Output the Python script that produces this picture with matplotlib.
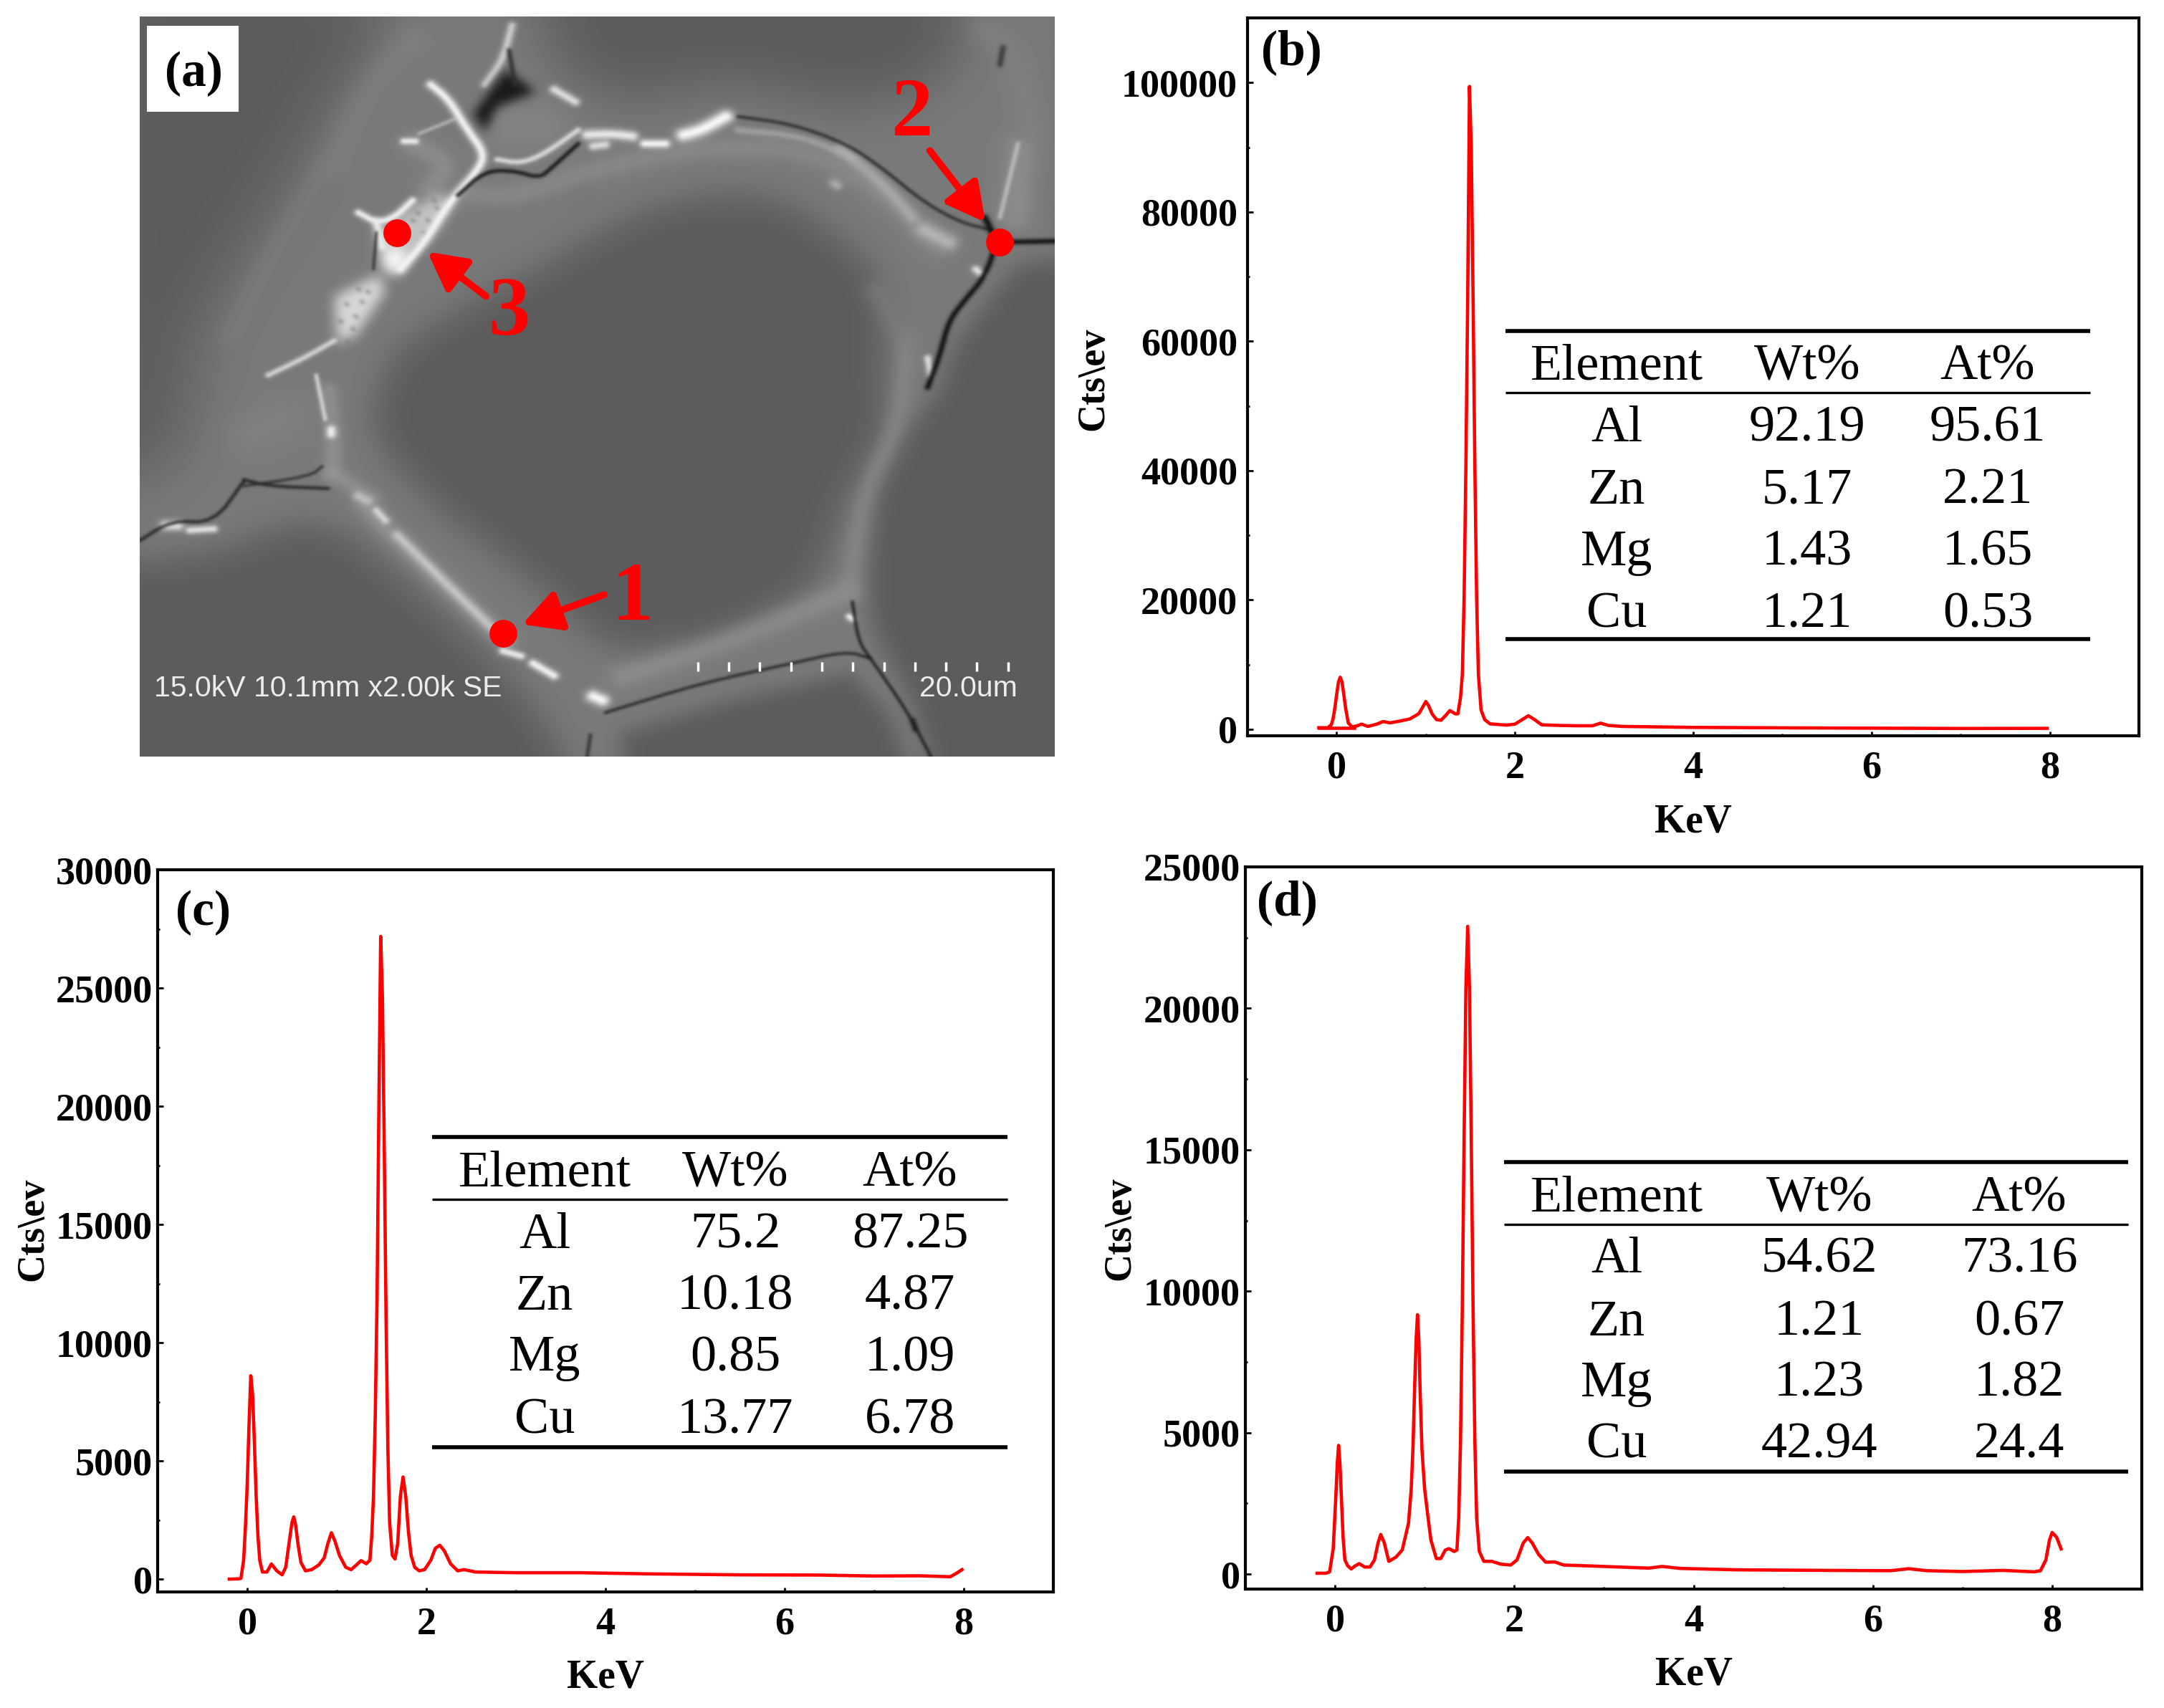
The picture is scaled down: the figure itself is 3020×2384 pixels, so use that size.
import numpy as np
import matplotlib
matplotlib.use("Agg")
import matplotlib.pyplot as plt
from matplotlib.path import Path

W, H = 3020, 2384
plt.rcParams['font.family'] = ['Liberation Serif', 'DejaVu Serif']

# ---------- spectra ----------
b_kev = [-0.2,-0.1,-0.06,-0.04,-0.02,0.0,0.02,0.04,0.06,0.08,0.1,0.13,0.17,0.22,0.28,0.35,0.45,0.52,0.6,0.7,0.82,0.92,0.96,1.0,1.03,1.07,1.12,1.17,1.22,1.27,1.33,1.36,1.39,1.41,1.43,1.45,1.47,1.49,1.51,1.53,1.55,1.57,1.59,1.62,1.66,1.72,1.9,2.0,2.07,2.15,2.22,2.3,2.5,2.7,2.87,2.96,3.05,3.2,4,5,6,7,7.97]
b_cts = [250,250,700,1650,3300,5400,7300,8050,7300,5400,3300,1000,400,500,800,450,800,1200,1000,1250,1600,2400,3300,4300,3700,2400,1500,1400,2100,2900,2400,2400,5000,8500,20500,41000,67000,99400,90000,67000,41000,20500,8500,3000,1500,850,650,800,1400,2100,1500,700,600,550,550,950,600,450,300,230,180,130,150]
b_base_kev = [-0.2, 0.2]
b_base_cts = [250, 250]

c_kev = [-0.2,-0.1,-0.07,-0.04,-0.02,0,0.02,0.04,0.06,0.08,0.1,0.12,0.14,0.17,0.22,0.27,0.33,0.39,0.43,0.47,0.5,0.52,0.54,0.57,0.6,0.65,0.72,0.8,0.86,0.9,0.94,0.98,1.03,1.1,1.16,1.22,1.27,1.33,1.37,1.39,1.41,1.43,1.45,1.47,1.49,1.51,1.53,1.55,1.57,1.59,1.62,1.65,1.68,1.71,1.74,1.77,1.8,1.83,1.87,1.92,1.98,2.05,2.1,2.15,2.2,2.27,2.35,2.42,2.55,3,3.7,4.5,5.5,6.4,7,7.5,7.85,7.92,7.98]
c_cts = [0,10,30,800,2200,4000,6500,8600,7800,5800,3500,1800,800,300,300,640,350,180,500,1600,2400,2630,2300,1400,700,350,400,600,900,1500,1960,1600,1000,500,400,600,780,650,800,1800,3500,7000,12000,20000,27180,24600,18300,11100,5600,2400,1000,850,1500,3500,4320,3500,2000,1000,500,350,400,800,1300,1430,1200,650,350,400,300,270,270,220,180,170,130,140,100,250,400]

d_kev = [-0.2,-0.1,-0.06,-0.02,0.01,0.025,0.04,0.055,0.07,0.09,0.11,0.14,0.18,0.22,0.27,0.33,0.39,0.44,0.48,0.51,0.55,0.6,0.68,0.75,0.82,0.85,0.87,0.89,0.905,0.92,0.935,0.95,0.97,1.0,1.03,1.07,1.13,1.18,1.23,1.27,1.33,1.36,1.38,1.40,1.42,1.44,1.46,1.48,1.50,1.52,1.54,1.56,1.58,1.61,1.66,1.75,1.85,1.96,2.03,2.1,2.15,2.2,2.27,2.35,2.45,2.55,3,3.5,3.65,3.85,4.5,5.5,6.2,6.4,6.6,7,7.45,7.8,7.87,7.93,7.97,8.0,8.05,8.1]
d_cts = [30,30,80,900,2800,3900,4550,3900,2800,1300,500,300,180,280,370,250,250,500,1100,1400,1100,450,600,850,1800,3000,4500,6800,8300,9170,8300,6400,4400,3000,2200,1200,550,550,850,900,800,850,2000,4700,9400,15400,20700,22900,20700,15400,9400,4700,2000,800,450,450,350,320,500,1100,1290,1100,700,420,430,320,270,210,270,200,150,130,120,190,120,90,130,80,120,500,1200,1470,1300,890]

# ---------- tables ----------
table_head = ["Element", "Wt%", "At%"]
elements = ["Al", "Zn", "Mg", "Cu"]
b_wt = ["92.19", "5.17", "1.43", "1.21"]
b_at = ["95.61", "2.21", "1.65", "0.53"]
c_wt = ["75.2", "10.18", "0.85", "13.77"]
c_at = ["87.25", "4.87", "1.09", "6.78"]
d_wt = ["54.62", "1.21", "1.23", "42.94"]
d_at = ["73.16", "0.67", "1.82", "24.4"]

xticks = [0, 2, 4, 6, 8]
RED = '#ff0000'
LW = 3.3

fig = plt.figure(figsize=(W/100, H/100), dpi=100, facecolor='white')

def px_axes(l, t, r, b):
    return fig.add_axes([l/W, 1-b/H, (r-l)/W, (b-t)/H])

def ftext(x, y, s, **kw):
    kw.setdefault('ha', 'center'); kw.setdefault('va', 'center')
    fig.text(x/W, 1-y/H, s, **kw)

def hrule(x0, x1, y, lw):
    fig.add_artist(plt.Line2D([x0/W, x1/W], [1-y/H, 1-y/H], color='black', lw=lw, solid_capstyle='butt'))

def spectrum(box, ylim, yticks, kev, cts, letter, letter_xy, ylab_x, xlab_y, ylab_y, tbl, ypad=5):
    ax = px_axes(*box)
    ax.plot(kev, cts, color=RED, lw=LW, solid_joinstyle='round')
    ax.set_xlim(-1, 9); ax.set_ylim(*ylim)
    ax.set_xticks(xticks); ax.set_yticks(yticks)
    ax.set_xticks([-1,1,3,5,7,9], minor=True)
    ax.set_yticks([(yticks[i]+yticks[i+1])/2 for i in range(len(yticks)-1)], minor=True)
    ax.tick_params(axis='x', which='major', direction='in', length=4, width=2, labelsize=39, pad=15)
    ax.tick_params(axis='y', which='major', direction='in', length=6, width=2, labelsize=39, pad=ypad)
    ax.tick_params(axis='both', which='minor', direction='in', length=2.5, width=2)
    for t in ax.get_xticklabels()+ax.get_yticklabels():
        t.set_fontweight('bold')
    for s in ax.spines.values():
        s.set_linewidth(3)
    ftext(*letter_xy, letter, fontsize=50, fontweight='bold')
    ftext(ylab_x, ylab_y, 'Cts\\ev', fontsize=39, fontweight='bold', rotation=90)
    ftext((box[0]+box[2])/2, xlab_y, 'KeV', fontsize=40, fontweight='bold')
    x0, x1, y_top, y_mid, y_bot, rows, cols, wt, at = tbl
    hrule(x0, x1, y_top, 4); hrule(x0, x1, y_mid, 2.4); hrule(x0, x1, y_bot, 4)
    for c, s in zip(cols, table_head):
        ftext(c, rows[0]+5, s, fontsize=52)
    for i, el in enumerate(elements):
        ftext(cols[0], rows[i+1]+5, el, fontsize=52)
        ftext(cols[1], rows[i+1]+5, wt[i], fontsize=52)
        ftext(cols[2], rows[i+1]+5, at[i], fontsize=52)
    return ax

ax_b = spectrum((1741,25,2985,1027), (-1000,110000), [0,20000,40000,60000,80000,100000], b_kev, b_cts,
         '(b)', (1802,73), 1526, 1147, 529,
         (2101,2917,462,548,892,[507,593,680,766,853],[2256,2522,2774],b_wt,b_at), ypad=10)
ax_b.plot(b_base_kev, b_base_cts, color=RED, lw=LW)
spectrum((220,1214,1470,2222), (-543,30000), [0,5000,10000,15000,20000,25000,30000], c_kev, c_cts,
         '(c)', (283,1274), 46, 2341, 1716,
         (603,1406,1587,1674,2020,[1633,1719,1805,1891,1978],[760,1026,1270],c_wt,c_at))
spectrum((1738,1210,2989,2218), (-530,25000), [0,5000,10000,15000,20000,25000], d_kev, d_cts,
         '(d)', (1796,1260), 1563, 2337, 1715,
         (2099,2970,1622,1709,2054,[1668,1753,1841,1926,2012],[2256,2539,2818],d_wt,d_at))

# ---------- panel (a): micrograph sketch ----------
XR = (18, 1535); YR = (33, 1533)
NX, NY = 760, 620
gx = np.linspace(XR[0], XR[1], NX); gy = np.linspace(YR[0], YR[1], NY)
GX, GY = np.meshgrid(gx, gy)

def blur(a, sigma):
    pad = np.pad(a, 40, mode='edge')
    fx = np.fft.rfftfreq(pad.shape[1]); fy = np.fft.fftfreq(pad.shape[0])
    G = np.exp(-2*(np.pi*sigma)**2*(fx[None, :]**2+fy[:, None]**2))
    return np.fft.irfft2(np.fft.rfft2(pad)*G, s=pad.shape)[40:-40, 40:-40]

def region(img, pts, val, sigma):
    m = Path(pts).contains_points(np.c_[GX.ravel(), GY.ravel()]).reshape(GX.shape).astype(float)
    m = blur(m, sigma)
    return img*(1-m)+val*m

def chaikin(pts, n=2):
    p = np.asarray(pts, float)
    for _ in range(n):
        q = [p[0]]
        for a, c in zip(p[:-1], p[1:]):
            q += [0.75*a+0.25*c, 0.25*a+0.75*c]
        q.append(p[-1])
        p = np.array(q)
    return p

def stroke(img, pts, width, val, strength=1.0, smooth=True):
    pts = chaikin(pts) if (smooth and len(pts) > 2) else np.asarray(pts, float)
    d2 = np.full(GX.shape, 1e12)
    for (x0, y0), (x1, y1) in zip(pts[:-1], pts[1:]):
        dx, dy = x1-x0, y1-y0
        t = np.clip(((GX-x0)*dx+(GY-y0)*dy)/max(dx*dx+dy*dy, 1e-6), 0, 1)
        d2 = np.minimum(d2, (GX-x0-t*dx)**2+(GY-y0-t*dy)**2)
    m = strength*np.exp(-d2/(width*width))
    return img*(1-m)+val*m

DARK = 92
sem = np.full(GX.shape, 122.0)
core_grain = [(700,530),(780,470),(870,420),(960,395),(1050,395),(1120,430),(1190,490),(1240,550),(1255,620),(1255,720),(1250,800),(1255,880),(1225,940),(1190,1010),(1165,1100),(1140,1180),(1060,1250),(960,1300),(830,1320),(770,1290),(700,1210),(620,1130),(520,1040),(430,930),(400,850),(430,730),(490,670),(560,620),(640,570)]
top_left = [(-40,-40),(450,-40),(400,110),(340,220),(290,330),(230,450),(170,560),(110,700),(100,850),(60,950),(-40,1000)]
bottom_left = [(-40,1150),(140,1120),(280,1060),(360,1080),(450,1170),(560,1290),(650,1400),(760,1600),(-40,1600)]
top_grain = [(660,-40),(1370,-40),(1390,100),(1300,190),(1180,215),(1000,165),(820,205),(750,165),(700,100)]
right_grain = [(1600,510),(1470,540),(1420,620),(1370,700),(1345,790),(1290,880),(1240,1000),(1225,1200),(1240,1290),(1300,1420),(1345,1600),(1600,1600)]
bottom_grain = [(840,1600),(810,1490),(1000,1420),(1200,1365),(1260,1450),(1310,1600)]
for poly, sg in [(top_left,26),(bottom_left,14),(top_grain,22),(right_grain,9),(bottom_grain,8)]:
    sem = region(sem, poly, DARK, sg)
sem = region(sem, core_grain, DARK, 14)

# soft bands and halos: (path, width, grey, strength)
pale = [
    ([(560,390),(640,400),(800,330),(1000,290),(1150,310),(1260,400),(1340,500)], 24, 145, .55),
    ([(1180,300),(1250,370),(1300,440)], 12, 190, .6),
    ([(1010,262),(1120,275),(1200,320)], 7, 175, .7),
    ([(390,1020),(440,1090),(625,1300)], 20, 160, .6),
    ([(445,1085),(540,1200),(625,1300)], 9, 205, .85),
    ([(330,790),(340,900),(335,960)], 16, 150, .7),
    ([(340,960),(400,1010)], 16, 150, .7),
    ([(1360,490),(1320,465)], 16, 190, .8),
    ([(820,1370),(1000,1300),(1190,1200)], 26, 150, .6),
    ([(1290,690),(1280,850),(1215,1010),(1195,1200)], 18, 140, .6),
    ([(1240,590),(1290,690)], 22, 125, .6),
    ([(350,740),(420,620),(520,520),(640,460),(760,400)], 28, 120, .7),
    ([(680,255),(640,255)], 50, 132, .95),
    ([(205,880),(250,850)], 46, 128, .85),
    ([(470,80),(430,130),(380,220),(340,330)], 32, 130, .6),
    ([(320,350),(260,470),(200,600),(170,680)], 24, 125, .6),
    ([(1480,300),(1470,440)], 30, 150, .6),
    ([(1420,60),(1470,120),(1500,260)], 30, 130, .6),
    ([(470,290),(530,330),(500,380)], 22, 150, .6),
]
for p, w, v, s in pale:
    sem = stroke(sem, p, w, v, s)

# bright precipitates
for poly, val in [([(470,420),(520,390),(540,410),(500,480),(450,540),(420,540),(412,470)], 195),
                  ([(340,600),(415,555),(425,590),(375,680),(345,695)], 215),
                  ([(422,500),(465,510),(450,555),(425,550)], 250)]:
    sem = region(sem, poly, val, 5)
# pores inside the bright patches
pore_x = [360,375,350,385,370,395,362,478,495,510,488,470,505,452,380]
pore_y = [615,640,650,610,665,590,690,430,445,420,470,445,405,480,585]
for x, y in zip(pore_x, pore_y):
    sem = stroke(sem, [(x,y),(x+2,y+2)], 4, 120, .6, smooth=False)

white = [
    ([(920,272),(950,262),(990,235)], 13, 250),
    ([(855,290),(890,290)], 8, 250),
    ([(760,272),(800,270),(835,275)], 10, 235),
    ([(770,295),(790,292)], 8, 225),
    ([(500,170),(530,200),(560,260),(590,310),(578,345),(530,410),(490,490),(450,545)], 8, 245),
    ([(380,430),(410,450),(440,440),(470,405)], 6.5, 245),
    ([(410,450),(420,500)], 8, 235),
    ([(455,285),(475,285)], 6, 245),
    ([(480,270),(540,240)], 3, 190),
    ([(230,760),(290,725),(340,690)], 5, 220),
    ([(705,180),(740,205)], 8, 225),
    ([(590,170),(620,120),(635,50)], 7, 205),
    ([(310,760),(325,850)], 3.5, 220),
    ([(335,870),(335,880)], 8, 240),
    ([(60,1065),(80,1065)], 10, 235),
    ([(100,1075),(140,1072)], 7, 230),
    ([(620,1320),(650,1330)], 7, 240),
    ([(670,1345),(705,1370)], 8, 245),
    ([(770,1412),(785,1420)], 12, 250),
    ([(380,1005),(395,1015)], 9, 190),
    ([(410,1035),(425,1055)], 7, 215),
    ([(610,322),(650,330),(690,310),(745,262)], 5, 225),
    ([(1325,725),(1330,760)], 6, 225),
    ([(1195,1250),(1200,1255)], 6, 250),
    ([(1405,545),(1415,555)], 7, 230),
    ([(1170,370),(1175,375)], 9, 170),
    ([(1475,290),(1445,440)], 4, 190),
]
for p, w, v in white:
    sem = stroke(sem, p, w, v)

# cracks: dark
for poly, val in [([(570,230),(625,140),(675,185),(610,215),(590,265)], 25)]:
    sem = region(sem, poly, val, 4)
black = [
    ([(1010,235),(1100,250),(1190,290),(1250,340),(1320,410),(1380,450),(1430,465)], 2.8, 35),
    ([(630,100),(640,170)], 4, 50),
    ([(545,395),(590,345),(640,345),(680,360),(700,340),(745,290)], 3.6, 15),
    ([(190,972),(230,985),(330,990)], 3, 25),
    ([(18,1095),(70,1055),(140,1060),(190,975)], 3, 30),
    ([(190,985),(300,965),(320,945)], 2.4, 35),
    ([(790,1445),(950,1385),(1100,1345),(1190,1320),(1230,1335)], 2.6, 25),
    ([(1200,1220),(1210,1300),(1230,1335),(1290,1440),(1330,1533)], 2.6, 25),
    ([(1440,490),(1420,560),(1385,610),(1360,650),(1345,720),(1325,785)], 5, 15),
    ([(1445,490),(1535,488)], 5, 10),
    ([(1420,440),(1440,490)], 6, 15),
    ([(1450,95),(1445,130)], 5, 60),
    ([(765,1490),(760,1533)], 3, 50),
    ([(410,470),(405,545)], 2.2, 40),
    ([(1300,1460),(1305,1480)], 5, 30),
]
for p, w, v in black:
    sem = stroke(sem, p, w, v)
sem = blur(sem, 1.0)

ax_a = px_axes(195, 23, 1472, 1056)
ax_a.imshow(sem, cmap='gray', vmin=0, vmax=255, extent=(XR[0], XR[1], YR[1], YR[0]),
            aspect='auto', interpolation='bilinear')
ax_a.set_xlim(*XR); ax_a.set_ylim(YR[1], YR[0]); ax_a.axis('off')

# white label box, caption and scale bar
ax_a.add_patch(plt.Rectangle((30,52), 152, 174, fc='white', ec='none', zorder=3))
ax_a.text(108, 150, '(a)', fontsize=50, fontweight='bold', ha='center', va='center', zorder=4)
ax_a.text(42, 1395, '15.0kV 10.1mm x2.00k SE', color='#ececec', fontsize=29.5, family='Liberation Sans', ha='left', va='center', zorder=4)
ax_a.text(1392, 1395, '20.0um', color='#ececec', fontsize=29.5, family='Liberation Sans', ha='center', va='center', zorder=4)
scale_ticks = [943, 995, 1046, 1098, 1149, 1200, 1252, 1303, 1355, 1406, 1458]
ax_a.vlines(scale_ticks, 1342, 1360, color='white', lw=2.5, zorder=4)

# red spots, arrows and numbers
spots_x = [620, 1444, 445]
spots_y = [1283, 490, 472]
ax_a.scatter(spots_x, spots_y, s=780, color=RED, zorder=5, linewidths=0)
arrows = [((788,1205),(652,1265)), ((1328,305),(1420,450)), ((592,600),(495,510))]
for tail, head in arrows:
    ax_a.annotate('', xy=head, xytext=tail, zorder=6,
                  arrowprops=dict(arrowstyle='-|>,head_length=1.6,head_width=0.85', color=RED, lw=7, shrinkA=0, shrinkB=0, mutation_scale=20))
for x, y, s in [(835,1215,'1'), (1298,233,'2'), (630,637,'3')]:
    ax_a.text(x, y, s, color=RED, fontsize=84, fontweight='bold', ha='center', va='center', zorder=6)

fig.savefig('out.png', dpi=100, facecolor='white')
